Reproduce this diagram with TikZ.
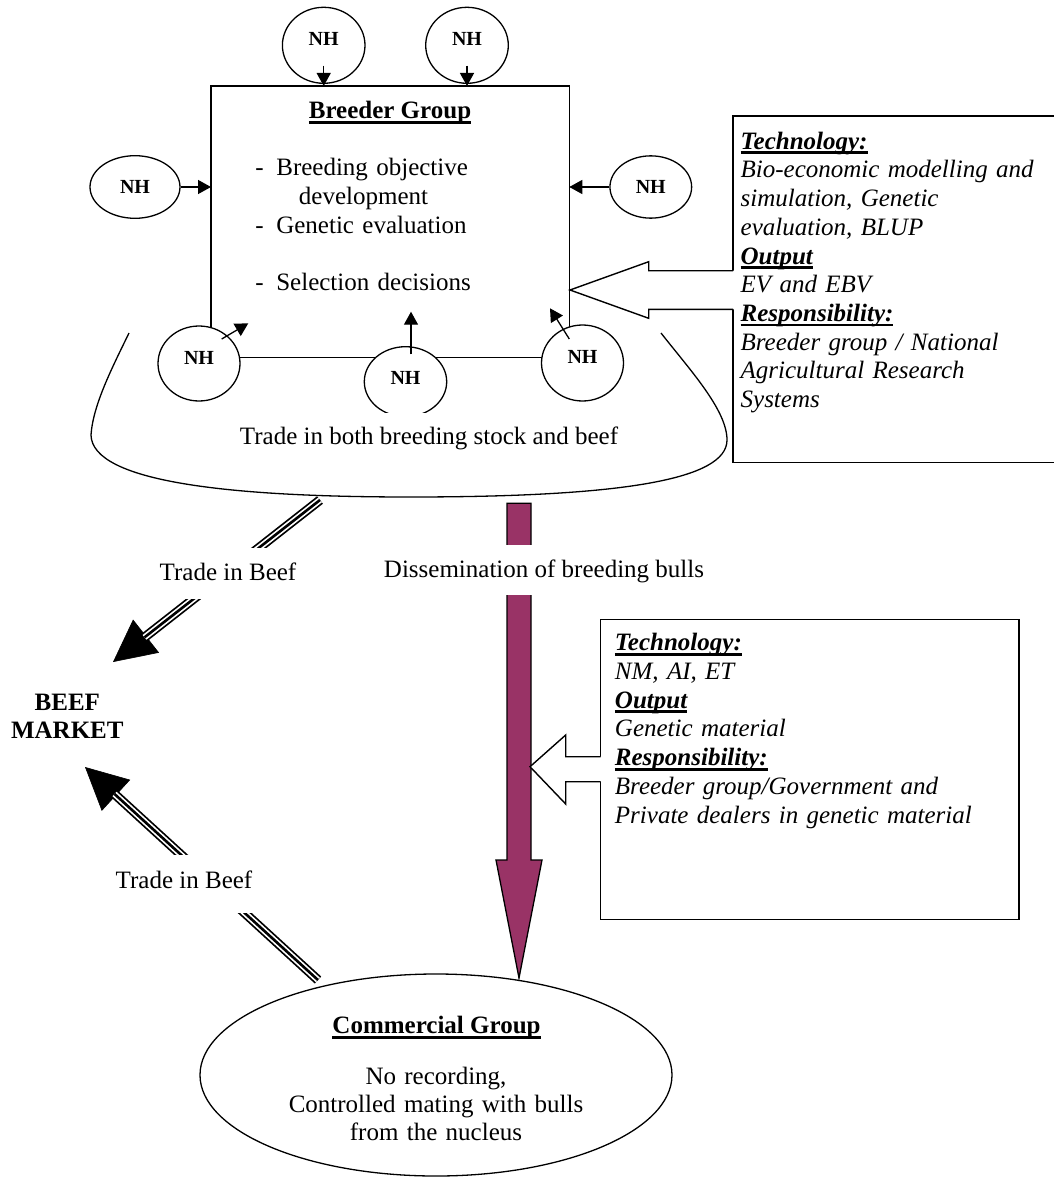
\documentclass[tikz,border=0pt]{standalone}
\usepackage{fontspec}
\setmainfont{Liberation Serif}
\usetikzlibrary{arrows.meta,shapes.geometric,calc}
\definecolor{plum}{RGB}{153,51,102}
\newcommand\myul[1]{\setbox0=\hbox{#1}\rlap{\rule[-5pt]{\wd0}{2.8pt}}\box0}
\begin{document}
\begin{tikzpicture}[x=1pt,y=-1pt,line width=1.3pt,
  nh/.style={ellipse,draw,fill=white,inner sep=0pt,font=\fontsize{20}{24}\selectfont\bfseries,text height=13.5pt,text depth=0pt},
  txt/.style={inner sep=0pt,font=\fontsize{25}{28.7}\selectfont},
  txtb/.style={inner sep=0pt,font=\fontsize{25}{28.7}\selectfont\bfseries},
  gaplabel/.style={txt,fill=white,inner xsep=3pt,inner ysep=0pt},
  smallarrow/.style={-{Triangle[length=13pt,width=14pt]}},
  triple/.style={draw=black,line width=9.5pt,postaction={draw=white,line width=6pt},postaction={draw=black,line width=2.6pt}},
  bigtip/.style={line width=0.6pt,-{Triangle[length=42pt,width=42pt]}},
  blockarrow/.style={line width=1.4pt,line join=miter}
]
\useasboundingbox (0,0) rectangle (1053,1177);

% ---- breeder box outline (closed below by the NH ring)
\coordinate (btl) at (211,86);
\coordinate (btr) at (569.3,86);
\draw (211,363.5) -- (btl) -- (btr) -- (569.3,363);
\draw (199,357.7) -- (582.5,357.7);

% ---- trade cup
\draw (129,333) .. controls (112,368) and (93,405) .. (91,435)
      .. controls (92,482) and (230,497) .. (410,497)
      .. controls (620,497) and (727,480) .. (727,440)
      .. controls (727,410) and (690,370) .. (661,333);

% ---- NH nodes
\node[nh,minimum width=82.6pt,minimum height=76pt,text depth=14pt] (nhT1) at (323.7,45.3) {NH};
\node[nh,minimum width=82.6pt,minimum height=76pt,text depth=14pt] (nhT2) at (467,45.3) {NH};
\node[nh,minimum width=90pt,minimum height=62.6pt] (nhL) at (135,187) {NH};
\node[nh,minimum width=81.7pt,minimum height=62.3pt] (nhR) at (650.8,187) {NH};
\node[nh,minimum width=82pt,minimum height=75pt,text depth=11.6pt] (nhBL) at (199,363.5) {NH};
\begin{scope}
  \clip (350,300) rectangle (460,412.5);
  \node[nh,minimum width=82.4pt,minimum height=70pt,text depth=8pt] (nhBM) at (405.5,381.7) {NH};
\end{scope}
\node[nh,minimum width=82pt,minimum height=76pt,text depth=12.6pt] (nhBR) at (582.5,363) {NH};

% ---- NH arrows into breeder box
\draw[smallarrow] ($(nhT1.center)+(0,20.4)$) -- (nhT1.center |- btl);
\draw[smallarrow] ($(nhT2.center)+(0,20.4)$) -- (nhT2.center |- btl);
\draw[smallarrow] (nhL.east) -- (nhL.east -| btl);
\draw[smallarrow] (nhR.west) -- (nhR.west -| btr);
\draw[smallarrow] ($(nhBL.center)+(22.7,-24.5)$) -- ($(nhBL.center)+(49.3,-40.2)$);
\draw[smallarrow] ($(nhBM.center)+(5.5,-27.4)$) -- ($(nhBM.center)+(5.5,-70)$);
\draw[smallarrow] ($(nhBR.center)+(-13.2,-24)$) -- ($(nhBR.center)+(-32.5,-54.7)$);

% ---- breeder box texts
\node[txtb,anchor=base] (bgtitle) at (390,119) {\myul{Breeder Group}};
\node[txt,anchor=base west,text width=320pt,align=left] (bglist) at (254.7,176) {%
  \makebox[21pt][l]{-}Breeding objective\\
  \hspace*{43.6pt}development\\
  \makebox[21pt][l]{-}Genetic evaluation\\[28.7pt]
  \makebox[21pt][l]{-}Selection decisions};
\node[txt,anchor=base] (cuptext) at (429,444) {Trade in both breeding stock and beef};

% ---- right info box 1
\draw (1058,116) -- (733,116) -- (733,462.7) -- (1058,462.7);
\node[txt,anchor=base west,text width=320pt,align=left] (info1) at (740,149.3) {%
  \textbf{\textit{\myul{Technology:}}}\\
  \textit{Bio-economic modelling and}\\
  \textit{simulation, Genetic}\\
  \textit{evaluation, BLUP}\\
  \textbf{\textit{\myul{Output}}}\\
  \textit{EV and EBV}\\
  \textbf{\textit{\myul{Responsibility:}}}\\
  \textit{Breeder group / National}\\
  \textit{Agricultural Research}\\
  \textit{Systems}};
\fill[white] (734,270.7) -- (648.7,270.7) -- (648.7,261.7) -- (570,290) -- (648.7,318.3) -- (648.7,309.3) -- (734,309.3) -- cycle;
\draw[blockarrow] (733,270.7) -- (648.7,270.7) -- (648.7,261.7) -- (570,290) -- (648.7,318.3) -- (648.7,309.3) -- (733,309.3);

% ---- commercial group
\node[ellipse,draw,minimum width=472pt,minimum height=202pt,inner sep=0pt] (comm) at (436,1075) {};
\node[txtb,anchor=base] (commtitle) at (436.5,1033.5) {\myul{Commercial Group}};
\node[txt,anchor=base,text width=340pt,align=center,font=\fontsize{25}{28.3}\selectfont] (commtext) at (436,1084) {No recording,\\Controlled mating with bulls\\from the nucleus};

% ---- dissemination arrow
\coordinate (dtop) at (519,503.3);
\coordinate (dtip) at (519,978);
\filldraw[fill=plum,draw=black,line width=1.3pt,line join=miter]
  ($(dtop)+(-12,0)$) -- ($(dtop)+(12,0)$) -- ($(dtip)+(12,-118)$) -- ($(dtip)+(23,-118)$)
  -- (dtip) -- ($(dtip)+(-23,-118)$) -- ($(dtip)+(-12,-118)$) -- cycle;
\node[gaplabel,anchor=base west,text height=32pt,text depth=18pt] (disslabel) at (380.3,577) {Dissemination of breeding bulls};

% ---- right info box 2
\draw (600.7,619.3) rectangle (1019,919.3);
\node[txt,anchor=base west,text width=380pt,align=left] (info2) at (614.3,650.8) {%
  \textbf{\textit{\myul{Technology:}}}\\
  \textit{NM, AI, ET}\\
  \textbf{\textit{\myul{Output}}}\\
  \textit{Genetic material}\\
  \textbf{\textit{\myul{Responsibility:}}}\\
  \textit{Breeder group/Government and}\\
  \textit{Private dealers in genetic material}};
\fill[white] (601.7,756.7) -- (565.7,756.7) -- (565.7,735) -- (530,766.7) -- (565.7,804) -- (565.7,781.7) -- (601.7,781.7) -- cycle;
\draw[blockarrow] (600.7,756.7) -- (565.7,756.7) -- (565.7,735) -- (530,766.7) -- (565.7,804) -- (565.7,781.7) -- (600.7,781.7);

% ---- beef market and trade arrows
\node[txtb,anchor=base,text width=140pt,align=center] (market) at (67.3,710) {BEEF\\MARKET};
\coordinate (us) at (320,500);
\coordinate (ut) at (113,662);
\draw[bigtip] (us) -- (ut);
\draw[triple] (us) -- ($(ut)!40pt!(us)$);
\node[gaplabel,anchor=base,text height=32pt,text depth=19pt] (tradeup) at (228,580) {Trade in Beef};
\coordinate (ls) at (318,980);
\coordinate (lt) at (85,767);
\draw[bigtip] (ls) -- (lt);
\draw[triple] (ls) -- ($(lt)!40pt!(ls)$);
\node[gaplabel,anchor=base,text height=33pt,text depth=25pt] (tradelow) at (184,888) {Trade in Beef};
\end{tikzpicture}
\end{document}
